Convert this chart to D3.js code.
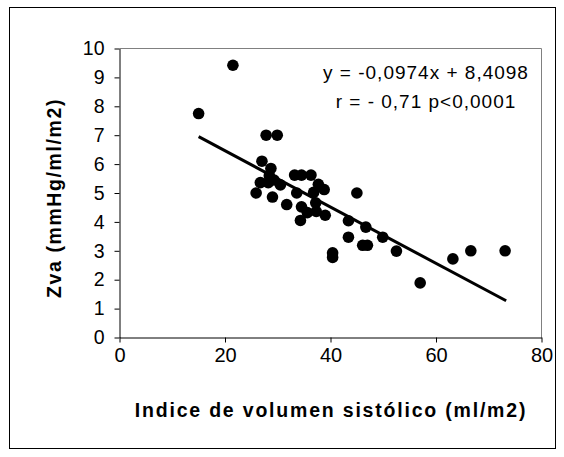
<!DOCTYPE html>
<html><head><meta charset="utf-8">
<script src="https://cdn.jsdelivr.net/npm/d3@7"></script>
<style>body{margin:0;background:#fff}svg{display:block}text{font-family:"Liberation Sans",Arial,sans-serif}</style>
</head><body>
<svg id="c" width="564" height="457"></svg>
<script>
const xValues = [15.0, 21.5, 27.8, 29.9, 27.0, 28.7, 28.4, 26.7, 28.2, 29.3, 30.5, 25.9, 29.0, 31.7, 33.2, 34.5, 36.3, 33.6, 34.5, 34.3, 35.6, 36.8, 37.7, 37.2, 37.3, 38.8, 39.0, 45.0, 43.4, 43.4, 46.7, 46.1, 47.0, 49.9, 52.5, 40.4, 40.4, 57.0, 63.2, 66.6, 73.1];
const yValues = [7.75, 9.42, 7.0, 7.0, 6.1, 5.85, 5.6, 5.36, 5.36, 5.45, 5.28, 5.0, 4.86, 4.6, 5.62, 5.62, 5.62, 5.0, 4.52, 4.05, 4.32, 5.02, 5.3, 4.66, 4.36, 5.12, 4.23, 5.0, 4.04, 3.47, 3.82, 3.19, 3.19, 3.47, 2.99, 2.93, 2.77, 1.89, 2.72, 3.0, 3.0];
const xTicks = [0, 20, 40, 60, 80];
const yTicks = [0, 1, 2, 3, 4, 5, 6, 7, 8, 9, 10];
const slope = -0.0974, intercept = 8.4098;
const fitRange = [15.0, 73.3];
const eqLines = ["y = -0,0974x + 8,4098", "r = - 0,71 p<0,0001"];
const xTitle = "Indice de volumen sistólico (ml/m2)";
const yTitle = "Zva (mmHg/ml/m2)";

const svg = d3.select("#c");
const L = 119.5, R = 541.5, T = 48.5, B = 337.5;
const x = d3.scaleLinear().domain([0, 80]).range([L, R]);
const y = d3.scaleLinear().domain([0, 10]).range([B, T]);

// outer frame
svg.append("rect").attr("x", 9.5).attr("y", 7.5).attr("width", 546).attr("height", 441)
  .attr("fill", "none").attr("stroke", "#000").attr("stroke-width", 1);

// plot area border (top/right grey)
svg.append("path").attr("d", `M${L},${T}H${R}V${B}`).attr("fill", "none").attr("stroke", "#808080").attr("stroke-width", 1);

// axes
const xa = svg.append("g").attr("transform", `translate(0,${B})`)
  .call(d3.axisBottom(x).tickValues(xTicks).tickSize(5).tickSizeOuter(0).tickPadding(5));
xa.selectAll("text").attr("font-size", 20).attr("fill", "#000").attr("dy", "0.71em");
const ya = svg.append("g").attr("transform", `translate(${L},0)`)
  .call(d3.axisLeft(y).tickValues(yTicks).tickSize(5).tickSizeOuter(0).tickPadding(10));
ya.selectAll("text").attr("font-size", 19.5).attr("fill", "#000");
svg.selectAll(".domain, .tick line").attr("stroke", "#000");

// regression line
svg.append("line")
  .attr("x1", x(fitRange[0])).attr("y1", y(slope * fitRange[0] + intercept))
  .attr("x2", x(fitRange[1])).attr("y2", y(slope * fitRange[1] + intercept))
  .attr("stroke", "#000").attr("stroke-width", 3);

// points
svg.append("g").selectAll("circle").data(xValues.map((v, i) => [v, yValues[i]])).join("circle")
  .attr("cx", d => x(d[0])).attr("cy", d => y(d[1])).attr("r", 5.8).attr("fill", "#000");

// equation
svg.append("g").selectAll("text").data(eqLines).join("text")
  .attr("x", 426).attr("y", (d, i) => 79 + i * 29).attr("text-anchor", "middle")
  .attr("font-size", 19).attr("letter-spacing", 1.0).text(d => d);

// titles
svg.append("text").attr("x", 331).attr("y", 417).attr("text-anchor", "middle")
  .attr("font-size", 19.5).attr("font-weight", "bold").attr("letter-spacing", 1.8).text(xTitle);
svg.append("text").attr("transform", "translate(61,198) rotate(-90)").attr("text-anchor", "middle")
  .attr("font-size", 19.5).attr("font-weight", "bold").attr("letter-spacing", 1.6).text(yTitle);
</script>
</body></html>
